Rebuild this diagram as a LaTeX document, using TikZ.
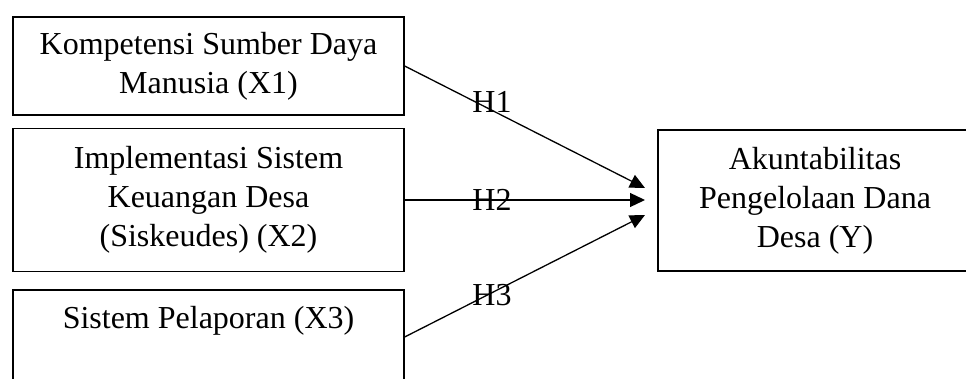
\documentclass[tikz,border=0pt]{standalone}
\usepackage{fontspec}
\setmainfont{Liberation Serif}
\usetikzlibrary{arrows.meta}

\tikzset{
	varbox/.style={draw, line width=1.3pt, align=center, inner sep=0pt,
		font=\fontsize{32}{39}\selectfont},
	hlabel/.style={inner sep=0pt, font=\fontsize{32}{39}\selectfont},
	path/.style={line width=1.3pt, -{Triangle[length=15pt,width=14pt]}}
}

\begin{document}
\begin{tikzpicture}[x=1pt,y=1pt]
	\useasboundingbox (0,0) rectangle (966,-379);

	\node[varbox, minimum width=391, minimum height=98] (x1) at (208.5,-66)
		{Kompetensi Sumber Daya\\Manusia (X1)};
	\node[varbox, minimum width=391, minimum height=143] (x2) at (208.5,-200)
		{Implementasi Sistem\\Keuangan Desa\\(Siskeudes) (X2)};
	\node[varbox, minimum width=391, minimum height=94] (x3) at (208.5,-337)
		{Sistem Pelaporan (X3)\\~};
	\node[varbox, minimum width=314, minimum height=141] (y) at (815,-200.5)
		{Akuntabilitas\\Pengelolaan Dana\\Desa (Y)};

	\coordinate (t1) at (645,-188);
	\coordinate (t2) at (645,-200);
	\coordinate (t3) at (645,-215);

	\draw[path] (x1.east) -- (t1);
	\draw[path] (x2.east) -- (t2);
	\draw[path] (x3.east) -- (t3);

	\node[hlabel] (h1) at (492,-102) {H1};
	\node[hlabel] (h2) at (492,-200) {H2};
	\node[hlabel] (h3) at (492,-295) {H3};
\end{tikzpicture}
\end{document}
